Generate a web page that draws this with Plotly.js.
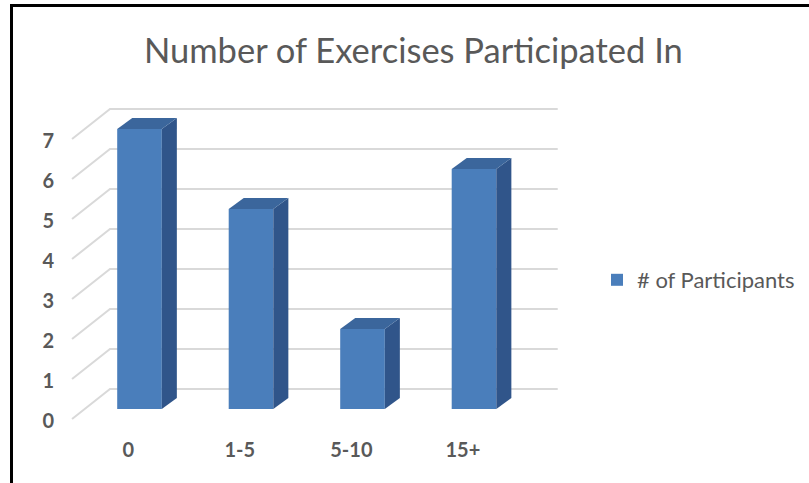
<!DOCTYPE html>
<html><head><meta charset="utf-8">
<script src="https://cdn.plot.ly/plotly-3.0.1.min.js"></script>
<style>
html,body{margin:0;padding:0;background:#fff;}
#chart{position:absolute;left:0;top:0;width:809px;height:483px;}
#frame{position:absolute;left:10px;top:4px;width:799px;height:479px;border-top:3px solid #000;border-left:3px solid #000;box-sizing:border-box;pointer-events:none;}
</style></head><body>
<div id="chart"></div><div id="frame"></div>
<script>
// ---- data ----
const categories = ['0', '1-5', '5-10', '15+'];
const participants = [7, 5, 2, 6];
const yTicks = [0, 1, 2, 3, 4, 5, 6, 7];
const seriesName = '# of Participants';
const chartTitle = 'Number of Exercises Participated In';

// ---- styling / pseudo-3D geometry (data-unit offsets) ----
const FRONT = '#4a7ebb', SIDE = '#30558a', TOP = '#3b669c';
const halfW = 0.2;          // half bar width
const depthX = 0.135, depthY = 0.275;   // bar depth projection
const gFrontX = -0.605, gFrontDY = -0.25; // front edge of grid floor/wall
const gBackX = -0.2646, gBackDY = 0.5;    // back wall
const gRightX = 3.751;
const FONT = 'Lato, "Open Sans", sans-serif';
const TXT = '#595959';

const ix = categories.map((_, i) => i);
const traces = [];
traces.push({
  type: 'bar', x: ix, y: participants, width: 2 * halfW, name: seriesName,
  marker: {color: FRONT, line: {width: 0}}, hoverinfo: 'skip', showlegend: true
});
ix.forEach((i, k) => {
  const v = participants[k];
  traces.push({
    type: 'scatter', mode: 'lines', fill: 'toself', fillcolor: SIDE,
    line: {width: 0, color: SIDE}, showlegend: false, hoverinfo: 'skip',
    x: [i + halfW, i + halfW + depthX, i + halfW + depthX, i + halfW, i + halfW],
    y: [0, depthY, v + depthY, v, 0]
  });
  traces.push({
    type: 'scatter', mode: 'lines', fill: 'toself', fillcolor: TOP,
    line: {width: 0, color: TOP}, showlegend: false, hoverinfo: 'skip',
    x: [i - halfW, i + halfW, i + halfW + depthX, i - halfW + depthX, i - halfW],
    y: [v, v, v + depthY, v + depthY, v]
  });
});

const shapes = yTicks.map(v => ({
  type: 'path', xref: 'x', yref: 'y', layer: 'below',
  path: `M${gFrontX},${v + gFrontDY} L${gBackX},${v + gBackDY} L${gRightX},${v + gBackDY}`,
  line: {color: '#d9d9d9', width: 2}
}));

const layout = {
  width: 809, height: 483,
  margin: {l: 60, r: 209, t: 90, b: 47, autoexpand: false},
  paper_bgcolor: '#fff', plot_bgcolor: 'rgba(0,0,0,0)',
  title: {text: chartTitle, font: {family: FONT, size: 34.5, color: TXT},
          xref: 'container', x: 0.511, xanchor: 'center',
          yref: 'container', y: 1 - 51 / 483, yanchor: 'middle'},
  xaxis: {range: [-0.713, 4.130], tickmode: 'array',
          tickvals: ix.map(i => i - 0.1), ticktext: categories,
          showgrid: false, zeroline: false, showline: false, ticks: '',
          tickfont: {family: FONT, size: 20, color: TXT, weight: 'bold'}},
  yaxis: {range: [-0.675, 7.975], tickmode: 'array',
          tickvals: yTicks.map(v => v - 0.3), ticktext: yTicks.map(String),
          showgrid: false, zeroline: false, showline: false, ticks: '',
          ticklabelstandoff: 5,
          tickfont: {family: FONT, size: 20, color: TXT, weight: 'bold'}},
  showlegend: true,
  legend: {xref: 'container', yref: 'container', x: 597 / 809, y: 1 - 280 / 483,
           xanchor: 'left', yanchor: 'middle', bgcolor: 'rgba(0,0,0,0)',
           font: {family: FONT, size: 22, color: TXT}},
  shapes: shapes
};
Plotly.newPlot('chart', traces, layout, {staticPlot: true, displayModeBar: false});
</script>
</body></html>
